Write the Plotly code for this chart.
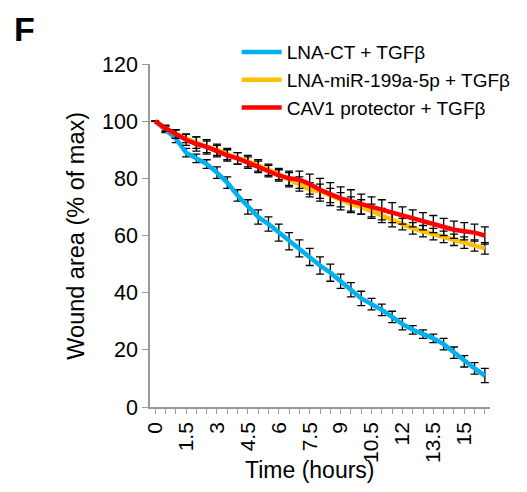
import plotly.graph_objects as go

# time points (hours), every 30 min
hours = [i * 0.5 for i in range(33)]

lna_ct = [100, 97, 94, 89, 87, 85, 82, 78.5, 74, 70, 66.5, 64, 61, 58, 55.5, 52.5,
          49.5, 47, 44, 41, 38, 36, 34, 31.5, 29, 27, 25.5, 24, 22, 19, 16, 13.5, 11]
lna_ct_err = [0, 1, 1.5, 1.5, 1.5, 1.5, 2, 2, 2, 2.5, 2.5, 2.5, 3, 3, 3, 3,
              3, 3, 2.5, 2.5, 2.5, 2, 2, 2, 2, 1.5, 1.5, 1.5, 2, 2, 2, 2, 2.5]

lna_mir = [100, 97.5, 95.5, 94, 92.5, 91, 90, 88.5, 87, 86, 84.5, 83, 81.5, 79.5, 78, 76,
           75.5, 74, 72.5, 71, 70, 68.5, 67, 65.5, 64, 62.5, 61.5, 60.5, 59.5, 58.5, 57.5, 56.5, 55.5]
lna_mir_err = [0, 1, 1.5, 1.5, 2, 2, 2, 2, 2, 2, 2, 2, 2, 2.5, 2.5, 2.5,
               2.5, 2.5, 2.5, 2.5, 2.5, 2.5, 2.5, 2.5, 2, 2, 2, 2, 2, 2, 2, 2, 2]

cav1 = [100, 97.5, 95.5, 93.5, 92, 91, 89.5, 88, 87, 85.5, 84, 82.5, 81, 80, 79.5, 78,
        76, 74.5, 73, 72, 71, 70, 69, 68, 67, 66, 65, 64, 63, 62, 61.5, 61, 60]
cav1_err = [0, 1, 1.5, 2, 2.5, 2.5, 2, 2, 2, 2, 2, 2, 2, 2.5, 3, 3.5,
            4, 4, 4, 4, 3.5, 3.5, 3.5, 3.5, 3, 3, 3, 3, 3, 3, 3, 3, 3]

series = [
    ("LNA-CT + TGFβ", lna_ct, lna_ct_err, "#00B0F0"),
    ("LNA-miR-199a-5p + TGFβ", lna_mir, lna_mir_err, "#FFC000"),
    ("CAV1 protector + TGFβ", cav1, cav1_err, "#FF0000"),
]

tick_vals = [0, 1.5, 3, 4.5, 6, 7.5, 9, 10.5, 12, 13.5, 15]
tick_text = ["0", "1.5", "3", "4.5", "6", "7.5", "9", "10.5", "12", "13.5", "15"]

FONT = "Arial, Liberation Sans, sans-serif"

fig = go.Figure()
for name, vals, err, col in series:
    fig.add_trace(go.Scatter(
        x=hours, y=vals, name=name, mode="lines",
        line=dict(color=col, width=4.5),
        error_y=dict(type="data", array=err, visible=True,
                     color="black", thickness=1.3, width=4),
    ))

fig.update_layout(
    width=519, height=484,
    margin=dict(l=142, r=37, t=56, b=85, autoexpand=False),
    plot_bgcolor="white", paper_bgcolor="white",
    font=dict(family=FONT, color="black"),
    legend=dict(x=0.255, y=1.09, xanchor="left", yanchor="top",
                font=dict(size=19), bgcolor="rgba(0,0,0,0)",
                itemwidth=40),
    xaxis=dict(range=[-0.25, 16.25], tickvals=tick_vals, ticktext=tick_text,
               tickangle=-90, tickfont=dict(size=21),
               showline=True, linecolor="#9a9a9a", linewidth=1.5,
               ticks="outside", tickcolor="#9a9a9a", ticklen=5,
               minor=dict(dtick=0.5, tick0=0, ticks="outside", ticklen=5,
                          tickcolor="#9a9a9a"),
               showgrid=False, zeroline=False),
    yaxis=dict(range=[0, 120], dtick=20, tickfont=dict(size=21.5),
               showline=True, linecolor="#9a9a9a", linewidth=1.5,
               ticks="outside", tickcolor="#9a9a9a", ticklen=6,
               showgrid=False, zeroline=False),
)

fig.add_annotation(text="Time (hours)", xref="paper", yref="paper",
                   x=0.47, y=-0.184, xanchor="center", yanchor="middle",
                   showarrow=False, font=dict(size=23))
fig.add_annotation(text="Wound area (% of max)", xref="paper", yref="paper",
                   x=-0.22, y=0.5, xanchor="center", yanchor="middle",
                   textangle=-90, showarrow=False, font=dict(size=23.5))
fig.add_annotation(text="<b>F</b>", xref="paper", yref="paper",
                   x=-0.405, y=1.163, xanchor="left", yanchor="top",
                   showarrow=False, font=dict(size=34))

fig.write_html("out.html")
